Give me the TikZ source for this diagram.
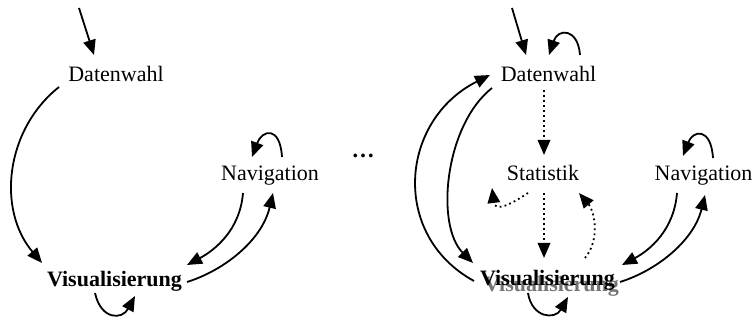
\documentclass[tikz,border=0pt]{standalone}
\usepackage{fontspec}
\setmainfont{Liberation Serif}
\usetikzlibrary{arrows.meta}

\begin{document}
\begin{tikzpicture}[x=1pt, y=-1pt,
  lbl/.style={anchor=base, inner sep=0pt, font=\fontsize{22}{26}\selectfont},
  boldlbl/.style={lbl, font=\fontsize{22}{26}\selectfont\bfseries},
  conn/.style={line width=1.8pt, -{Triangle[length=15pt,width=12.5pt]}},
  dotconn/.style={conn, dash pattern=on 1.8pt off 3.2pt}]

\useasboundingbox (0,0) rectangle (752,320);

% ---------- first state graph ----------
\node[lbl]     (dw1)  at (116,82)    {Datenwahl};
\node[boldlbl] (vis1) at (114.5,287) {Visualisierung};
\node[lbl]     (nav1) at (270,181)   {Navigation};
\coordinate (in1) at (79,8);

\draw[conn] (in1) -- ([shift={(-22,-27)}]dw1.base);
\draw[conn] ([shift={(-57,5)}]dw1.base)
  .. controls (5,130) and (-3,210) .. ([shift={(-72.5,-24)}]vis1.base);
\draw[conn] ([shift={(-19.5,6)}]vis1.base)
  .. controls (101,320) and (122,320) .. ([shift={(20.5,9)}]vis1.base);
\draw[conn] ([shift={(12,-24)}]nav1.base)
  .. controls (280,125) and (262,130) .. ([shift={(-18,-24)}]nav1.base);
\draw[conn] ([shift={(-27,12)}]nav1.base)
  .. controls (240,230) and (215,250) .. ([shift={(72.5,-22)}]vis1.base);
\draw[conn] ([shift={(72.5,-5)}]vis1.base)
  .. controls (225,270) and (262,240) .. ([shift={(3,12)}]nav1.base);

% ---------- continuation ----------
\node[lbl, font=\fontsize{23}{26}\selectfont\bfseries] (dots) at (363,158) {…};

% ---------- second state graph ----------
\node[lbl]     (dw2)  at (548.5,82)  {Datenwahl};
\node[lbl]     (stat) at (543,181)   {Statistik};
\node[boldlbl, text=black!55] (vis2s) at (551.5,291.5) {Visualisierung};
\node[boldlbl] (vis2) at (547.5,286) {Visualisierung};
\node[lbl]     (nav2) at (703.5,181) {Navigation};
\coordinate (in2) at (512,8);

\draw[conn] (in2) -- ([shift={(-22.5,-27)}]dw2.base);
\draw[conn] ([shift={(31.5,-27)}]dw2.base)
  .. controls (578,28) and (558,28) .. ([shift={(0.5,-27)}]dw2.base);
\draw[conn] ([shift={(-73.5,-5)}]vis2.base)
  .. controls (390,235) and (400,120) .. ([shift={(-58.5,-7)}]dw2.base);
\draw[conn] ([shift={(-56.5,6)}]dw2.base)
  .. controls (445,125) and (435,225) .. ([shift={(-74.5,-23)}]vis2.base);
\draw[dotconn] ([shift={(-4.5,8)}]dw2.base) -- ([shift={(1,-26)}]stat.base);
\draw[dotconn] ([shift={(1,12)}]stat.base) -- ([shift={(-3.5,-28)}]vis2.base);
\draw[dotconn] ([shift={(-15,12)}]stat.base)
  .. controls (510,205) and (495,212) .. ([shift={(-51,7)}]stat.base);
\draw[dotconn] ([shift={(37.5,-28)}]vis2.base)
  .. controls (600,240) and (595,212) .. ([shift={(36,12)}]stat.base);
\draw[conn] ([shift={(-19.5,7)}]vis2.base)
  .. controls (532,318) and (555,320) .. ([shift={(20.5,11)}]vis2.base);
\draw[conn] ([shift={(9.5,-23)}]nav2.base)
  .. controls (711,127) and (693,130) .. ([shift={(-20.5,-25)}]nav2.base);
\draw[conn] ([shift={(-26.5,12)}]nav2.base)
  .. controls (674,230) and (650,250) .. ([shift={(74.5,-21)}]vis2.base);
\draw[conn] ([shift={(72.5,-4)}]vis2.base)
  .. controls (658,270) and (694,240) .. ([shift={(1.5,14)}]nav2.base);
\end{tikzpicture}
\end{document}
